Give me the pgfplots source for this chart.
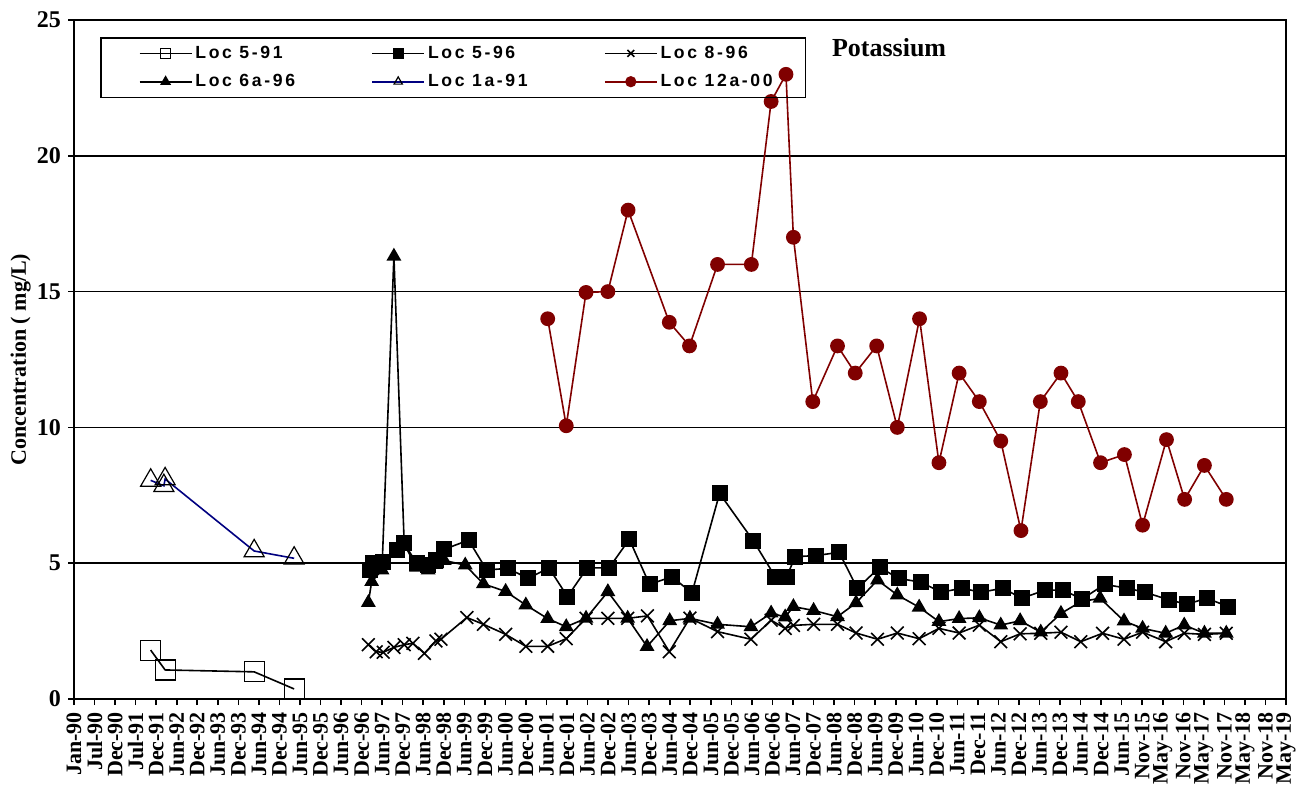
\documentclass[border=0pt]{standalone}
\usepackage{fontspec}
\setmainfont{Liberation Serif}
\newfontfamily\legendfont[LetterSpace=15]{Liberation Sans}
\usepackage{pgfplots}
\pgfplotsset{compat=1.18}
\definecolor{locred}{RGB}{128,0,0}
\definecolor{locblue}{RGB}{0,0,128}
\begin{document}
\begin{tikzpicture}
\begin{axis}[
    scale only axis,
    width=606pt, height=339.5pt,
    xmin=1990, xmax=2019.3992,
    ymin=0, ymax=25,
    clip=false,
    axis line style={line width=0.9pt},
    ytick={0,5,...,25},
    ymajorgrids=true,
    grid style={black, line width=0.8pt},
    tick pos=left,
    tick align=outside,
    major tick length=3pt,
    tick style={black, line width=0.8pt},
    /pgf/number format/assume math mode=true,
    yticklabel style={font=\bfseries\fontsize{12}{12}\selectfont},
    xtick={1990,1990.4983,1990.9966,1991.4949,1991.9932,1992.4914,1992.9897,1993.4880,1993.9863,1994.4846,
           1994.9829,1995.4812,1995.9795,1996.4778,1996.9760,1997.4743,1997.9726,1998.4709,1998.9692,1999.4675,
           1999.9658,2000.4641,2000.9624,2001.4606,2001.9589,2002.4572,2002.9555,2003.4538,2003.9521,2004.4504,
           2004.9487,2005.4470,2005.9452,2006.4435,2006.9418,2007.4401,2007.9384,2008.4367,2008.9350,2009.4333,
           2009.9316,2010.4298,2010.9281,2011.4264,2011.9247,2012.4230,2012.9213,2013.4196,2013.9179,2014.4162,
           2014.9145,2015.4127,2015.9110,2016.4093,2016.9076,2017.4059,2017.9042,2018.4025,2018.9008,2019.3991},
    xticklabels={Jan-90,Jul-90,Dec-90,Jul-91,Dec-91,Jun-92,Dec-92,Jun-93,Dec-93,Jun-94,Dec-94,Jun-95,Dec-95,Jun-96,Dec-96,Jun-97,Dec-97,Jun-98,Dec-98,Jun-99,Dec-99,Jun-00,Dec-00,Jun-01,Dec-01,Jun-02,Dec-02,Jun-03,Dec-03,Jun-04,Dec-04,Jun-05,Dec-05,Jun-06,Dec-06,Jun-07,Dec-07,Jun-08,Dec-08,Jun-09,Dec-09,Jun-10,Dec-10,Jun-11,Dec-11,Jun-12,Dec-12,Jun-13,Dec-13,Jun-14,Dec-14,Jun-15,Nov-15,May-16,Nov-16,May-17,Nov-17,May-18,Nov-18,May-19},
    xticklabel style={rotate=90, anchor=east, font=\bfseries\fontsize{11}{11}\selectfont},
    ylabel={\bfseries Concentration ( mg/L)},
    ylabel style={at={(axis description cs:-0.0440,0.5)}, anchor=center, font=\fontsize{11}{11}\selectfont},
    legend columns=3,
    legend style={at={(rel axis cs:0.02145,0.975)}, anchor=north west,
        draw=black, fill=none, line width=0.8pt, inner xsep=19pt, inner ysep=2.5pt,
        row sep=3.5pt,
        nodes={inner sep=1.5pt},
        font=\legendfont\bfseries\fontsize{8.8}{9.5}\selectfont},
    legend image code/.code={\draw[mark repeat=2,mark phase=2] plot coordinates {(0pt,0pt) (13pt,0pt) (26pt,0pt)};},
    legend image post style={mark size=2.4pt},
]

% Loc 5-91
\addplot[black, line width=0.8pt, mark=square, mark size=5pt, mark options={line width=0.6pt}]
coordinates {
(1991.86,1.80) (1992.21,1.07) (1994.37,1.00) (1995.34,0.37)
};
\addlegendentry{\makebox[86.5pt][l]{Loc 5-91}}

% Loc 5-96
\addplot[black, line width=0.8pt, mark=square*, mark size=3.6pt]
coordinates {
(1997.18,4.75) (1997.26,5.00) (1997.50,5.05) (1997.83,5.49) (1998.01,5.73)
(1998.31,5.00) (1998.59,4.93) (1998.78,5.12) (1998.98,5.51) (1999.57,5.85)
(2000.01,4.75) (2000.52,4.81) (2001.02,4.44) (2001.52,4.83) (2001.97,3.77)
(2002.45,4.83) (2002.98,4.83) (2003.47,5.88) (2003.96,4.22) (2004.50,4.50)
(2004.99,3.91) (2005.66,7.57) (2006.48,5.82) (2007.01,4.50) (2007.29,4.50)
(2007.49,5.24) (2007.99,5.28) (2008.56,5.40) (2009.00,4.07) (2009.54,4.85)
(2010.00,4.44) (2010.55,4.30) (2011.03,3.93) (2011.54,4.08) (2012.00,3.93)
(2012.53,4.08) (2012.99,3.71) (2013.56,4.01) (2013.99,4.01) (2014.45,3.68)
(2015.00,4.22) (2015.54,4.08) (2015.98,3.93) (2016.56,3.65) (2016.99,3.49)
(2017.48,3.71) (2018.00,3.40)
};
\addlegendentry{\makebox[86.5pt][l]{Loc 5-96}}

% Loc 8-96
\addplot[black, line width=0.8pt, mark=x, mark size=4.5pt, mark options={line width=0.8pt}]
coordinates {
(1997.14,2.00) (1997.33,1.74) (1997.50,1.72) (1997.76,1.90) (1998.01,2.00)
(1998.22,2.05) (1998.50,1.68) (1998.78,2.14) (1998.90,2.20) (1999.53,3.00)
(1999.93,2.75) (2000.47,2.38) (2000.96,1.94) (2001.49,1.94) (2001.94,2.22)
(2002.42,2.97) (2002.95,2.97) (2003.43,2.97) (2003.91,3.06) (2004.44,1.74)
(2004.94,2.98) (2005.61,2.48) (2006.42,2.20) (2006.91,2.90) (2007.25,2.60)
(2007.45,2.71) (2007.94,2.75) (2008.52,2.75) (2008.97,2.43) (2009.49,2.20)
(2009.97,2.43) (2010.50,2.22) (2010.98,2.60) (2011.47,2.43) (2011.96,2.72)
(2012.48,2.11) (2012.95,2.40) (2013.45,2.42) (2013.94,2.46) (2014.42,2.11)
(2014.95,2.42) (2015.47,2.20) (2015.92,2.46) (2016.48,2.11) (2016.93,2.42)
(2017.42,2.38) (2017.95,2.42)
};
\addlegendentry{\makebox[52pt][l]{Loc 8-96}}

% Loc 6a-96
\addplot[black, line width=0.8pt, mark=triangle*, mark size=3.5pt]
coordinates {
(1997.14,3.55) (1997.22,4.32) (1997.47,4.75) (1997.76,16.30) (1998.01,5.70)
(1998.31,4.85) (1998.59,4.75) (1998.78,4.95) (1998.98,5.10) (1999.49,4.93)
(1999.93,4.24) (2000.47,3.96) (2000.96,3.46) (2001.49,2.96) (2001.94,2.66)
(2002.42,2.97) (2002.95,3.95) (2003.43,2.97) (2003.90,1.93) (2004.45,2.88)
(2004.94,2.97) (2005.61,2.75) (2006.42,2.66) (2006.91,3.16) (2007.25,3.02)
(2007.45,3.40) (2007.94,3.26) (2008.52,3.03) (2008.97,3.54) (2009.49,4.38)
(2009.97,3.83) (2010.50,3.38) (2010.98,2.85) (2011.47,2.96) (2011.96,2.99)
(2012.48,2.72) (2012.95,2.88) (2013.45,2.46) (2013.94,3.15) (2014.42,3.58)
(2014.89,3.71) (2015.47,2.87) (2015.92,2.60) (2016.48,2.42) (2016.93,2.72)
(2017.42,2.42) (2017.95,2.42)
};
\addlegendentry{\makebox[86.5pt][l]{Loc 6a-96}}

% Loc 1a-91
\addplot[locblue, line width=0.8pt, mark=triangle, mark size=5.8pt, mark options={draw=black, line width=0.6pt}]
coordinates {
(1991.86,8.05) (1992.18,7.85) (1992.21,8.10) (1994.37,5.45) (1995.34,5.18)
};
\addlegendentry{\makebox[86.5pt][l]{Loc 1a-91}}

% Loc 12a-00
\addplot[locred, line width=0.8pt, mark=*, mark size=3.3pt, mark options={fill=locred}]
coordinates {
(2001.49,14.00) (2001.94,10.06) (2002.42,14.97) (2002.95,15.00) (2003.44,18.00)
(2004.44,13.87) (2004.93,13.00) (2005.61,16.00) (2006.43,16.00) (2006.91,22.00)
(2007.27,23.00) (2007.45,17.00) (2007.92,10.95) (2008.52,13.00) (2008.95,12.00)
(2009.47,13.00) (2009.97,10.00) (2010.51,14.00) (2010.98,8.70) (2011.47,12.00)
(2011.96,10.95) (2012.48,9.50) (2012.97,6.20) (2013.44,10.95) (2013.94,12.00)
(2014.36,10.95) (2014.90,8.70) (2015.48,9.00) (2015.92,6.40) (2016.50,9.55)
(2016.94,7.35) (2017.42,8.60) (2017.95,7.35)
};
\addlegendentry{\makebox[52pt][l]{Loc 12a-00}}

\node[anchor=west, font=\bfseries\fontsize{13}{13}\selectfont] at (rel axis cs:0.6196,0.9588) {Potassium};
\end{axis}
\pgfresetboundingbox
\path[use as bounding box] (-37pt,-47pt) rectangle (615.5pt,349.5pt);
\end{tikzpicture}
\end{document}
